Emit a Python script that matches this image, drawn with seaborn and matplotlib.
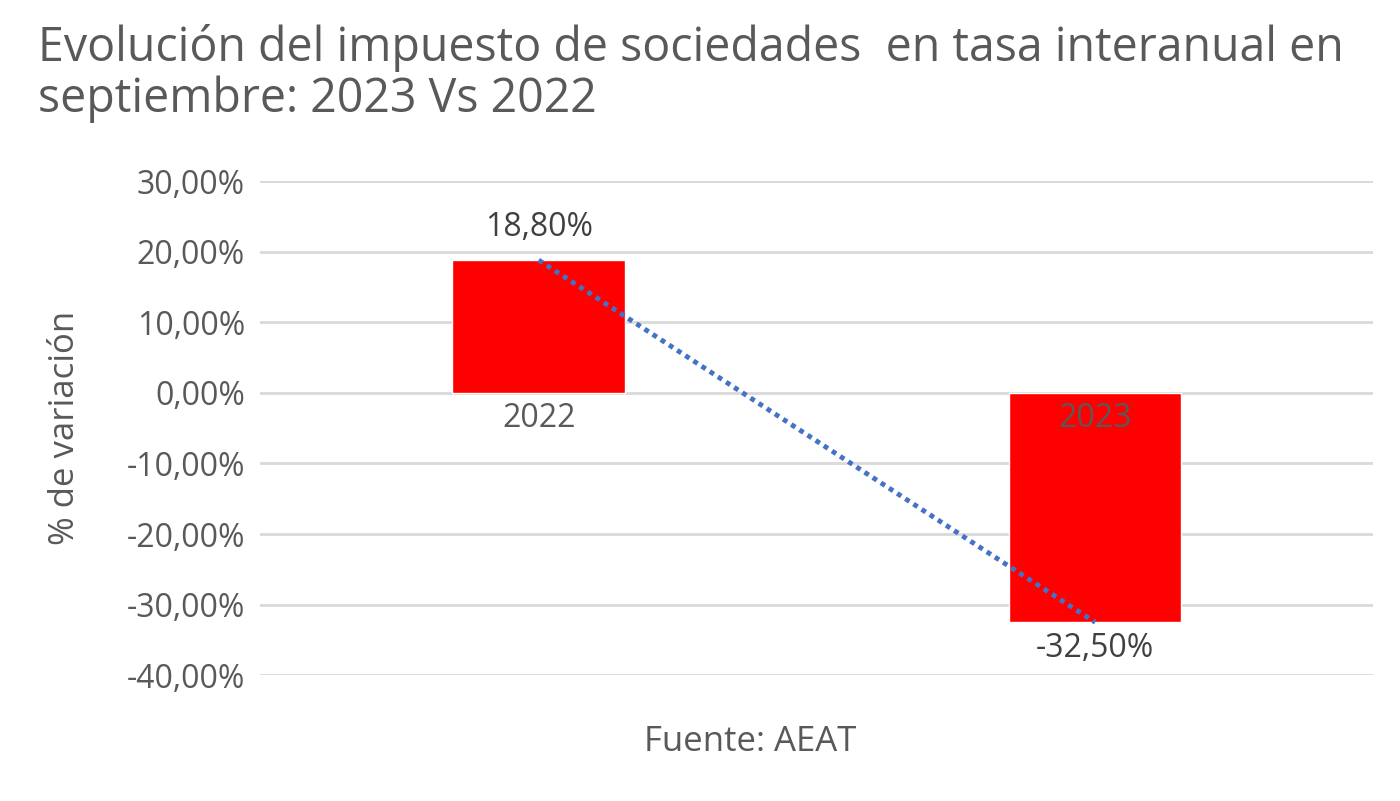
import pandas as pd
import seaborn as sns
import matplotlib.pyplot as plt

years = ['2022', '2023']
variation = [18.80, -32.50]
value_labels = ['18,80%', '-32,50%']
y_ticks = [30, 20, 10, 0, -10, -20, -30, -40]

df = pd.DataFrame({'year': years, 'variation': variation})

sns.set_style('white')
plt.rcParams['font.family'] = ['Open Sans', 'DejaVu Sans']
gray = '#595959'

fig = plt.figure(figsize=(14, 8.01), dpi=100)
ax = fig.add_axes([0.186, 0.157, 0.795, 0.617])

for t in y_ticks:
    ax.axhline(t, color='#d9d9d9', linewidth=2, zorder=0)

sns.barplot(data=df, x='year', y='variation', color='#ff0000', width=0.31,
            saturation=1, ax=ax, zorder=2)

# dotted trend line between the two bar ends
ax.plot([0, 1], variation, linestyle=(0, (1, 1)), color='#4472c4', linewidth=3.5, zorder=3)

ax.set_xlim(-0.5, 1.5)
ax.set_ylim(-40, 30)
ax.set_yticks(y_ticks)
ax.set_yticklabels([f'{t},00%' for t in y_ticks], fontsize=23, color=gray)
ax.tick_params(axis='y', length=0, pad=11)
ax.set_xticks([])
ax.set_xlabel('')
ax.set_ylabel('')
for s in ax.spines.values():
    s.set_visible(False)

# value labels
ax.text(0, 23.4, value_labels[0], ha='center', va='center', fontsize=23, color='#404040')
ax.text(1, -36.2, value_labels[1], ha='center', va='center', fontsize=23, color='#404040')

# category labels just below the zero line
for i, y in enumerate(years):
    ax.text(i, -3.7, y, ha='center', va='center', fontsize=23, color=gray, zorder=4)

fig.text(65 / 1400, 0.466, '% de variación', rotation=90, ha='center', va='center',
         fontsize=25, color=gray)
fig.text(750 / 1400, 0.074, 'Fuente: AEAT', ha='center', va='center', fontsize=25, color=gray)

fig.text(0.027, 0.97, 'Evolución del impuesto de sociedades  en tasa interanual en\nseptiembre: 2023 Vs 2022',
         ha='left', va='top', fontsize=33.5, color=gray, linespacing=1.1)

fig.savefig('out.png', dpi=100, facecolor='white')
